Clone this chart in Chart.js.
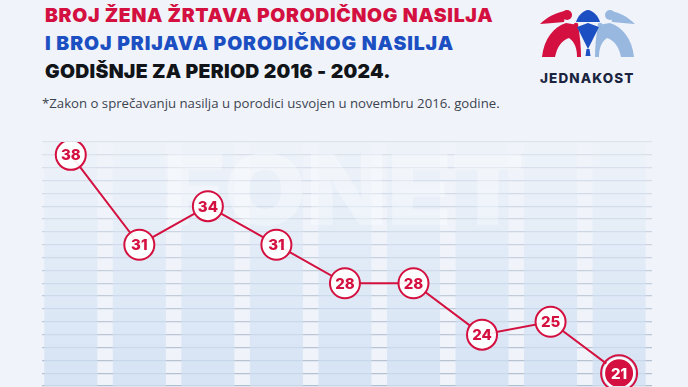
<!DOCTYPE html>
<html>
<head>
<meta charset="utf-8">
<script src="https://cdn.jsdelivr.net/npm/chart.js@4/dist/chart.umd.min.js"></script>
<style>
  html, body { margin: 0; padding: 0; }
  body { width: 688px; height: 387px; background: #f0f4fa; position: relative; overflow: hidden; font-family: Inter, sans-serif; }
  .t { position: absolute; left: 45px; margin: 0; font-weight: 900; font-size: 19.4px; line-height: 1; white-space: nowrap; }
  #t1 { top: 6px; color: #d3103f; letter-spacing: 0.67px; }
  #t2 { top: 34px; color: #1c4fc2; letter-spacing: 0.9px; }
  #t3 { top: 62px; color: #111418; letter-spacing: 0.28px; }
  #note { position: absolute; left: 42px; top: 94px; font-family: "Open Sans", sans-serif; font-size: 13.2px; color: #3d4350; white-space: nowrap; }
  #logo { position: absolute; left: 0; top: 0; }
  #brand { position: absolute; left: 540px; top: 70px; font-weight: 800; font-size: 13.5px; letter-spacing: 1.1px; color: #1b2440; }
  #wrap { position: absolute; left: 0; top: 125px; width: 688px; height: 278px; }
</style>
</head>
<body>
<div class="t" id="t1">BROJ ŽENA ŽRTAVA PORODIČNOG NASILJA</div>
<div class="t" id="t2">I BROJ PRIJAVA PORODIČNOG NASILJA</div>
<div class="t" id="t3">GODIŠNJE ZA PERIOD 2016 - 2024.</div>
<div id="note">*Zakon o sprečavanju nasilja u porodici usvojen u novembru 2016. godine.</div>

<svg id="logo" width="688" height="100">
  <!-- red figure -->
  <path d="M566,11 C557,12 547,17 540,24 C549,23 557,23 564,22 Z" fill="#d3103f"/>
  <circle cx="567" cy="15" r="5" fill="#d3103f"/>
  <path d="M542,57 C544,38 554,27 566,23 L578,25 C580,36 581,47 581,57 Z" fill="#d3103f"/>
  <path d="M555,57 C557,47 562,40 569,38 C575,42 577,49 577,57 Z" fill="#f0f4fa"/>
  <!-- light blue figure -->
  <path d="M610,11 C619,12 628,17 635,24 C626,23 619,23 612,22 Z" fill="#98b8e0"/>
  <circle cx="610" cy="15" r="5" fill="#98b8e0"/>
  <path d="M634,57 C632,38 622,27 610,23 L598,25 C596,36 595,47 595,57 Z" fill="#98b8e0"/>
  <path d="M621,57 C619,47 614,40 607,38 C601,42 599,49 599,57 Z" fill="#f0f4fa"/>
  <!-- blue figure -->
  <path d="M588,10 C582,11 578,16 576,22 L600,22 C598,16 594,11 588,10 Z" fill="#1c4fc2"/>
  <circle cx="588" cy="15" r="4.5" fill="#1c4fc2"/>
  <path d="M577,27 L588,23 L599,27 L588,49 Z" fill="#1c4fc2"/>
  <path d="M586.5,49 L589.5,49 L590.5,56 L585.5,56 Z" fill="#1c4fc2"/>
  <circle cx="576" cy="25" r="2.3" fill="#d3103f"/>
  <circle cx="600" cy="25" r="2.3" fill="#98b8e0"/>
</svg>
<div id="brand">JEDNAKOST</div>

<div id="wrap"><canvas id="c"></canvas></div>

<script>
// --- DATA ---
const years = [2016, 2017, 2018, 2019, 2020, 2021, 2022, 2023, 2024];
const victims = [38, 31, 34, 31, 28, 28, 24, 25, 21];
// background columns reach past the top of the visible area
const columnLevel = [39, 39, 39, 39, 39, 39, 39, 39, 39];
const yMin = 20, yMax = 39;

const RED = '#d3103f';

// --- PLUGINS ---
const watermark = {
    id: 'watermark',
    beforeDatasetDraw(chart, args) {
        if (args.index !== 1) return;
        const ctx = chart.ctx;
        ctx.save();
        ctx.font = '900 98px Inter';
        ctx.fillStyle = 'rgba(255,255,255,0.3)';
        ctx.textBaseline = 'alphabetic';
        const w = ctx.measureText('FONET').width;
        ctx.translate(163, 100);
        ctx.scale(361 / w, 1);
        ctx.fillText('FONET', 0, 0);
        ctx.restore();
    }
};

const pointLabels = {
    id: 'pointLabels',
    afterDatasetsDraw(chart) {
        const ctx = chart.ctx;
        const meta = chart.getDatasetMeta(1);
        ctx.save();
        ctx.textAlign = 'center';
        ctx.textBaseline = 'middle';
        meta.data.forEach((pt, i) => {
            const last = i === victims.length - 1;
            if (last) {
                ctx.beginPath();
                ctx.arc(pt.x, pt.y, 18, 0, Math.PI * 2);
                ctx.lineWidth = 2;
                ctx.strokeStyle = RED;
                ctx.stroke();
            }
            ctx.font = '800 15px Inter';
            ctx.fillStyle = last ? '#ffffff' : RED;
            ctx.fillText(victims[i], pt.x, pt.y + 1);
        });
        ctx.restore();
    }
};

function gridColor(ctx) {
    const v = ctx.tick ? ctx.tick.value : yMin;
    const f = (v - yMin) / (yMax - yMin);
    const a = 0.62 - 0.42 * f;
    return 'rgba(140,158,182,' + a.toFixed(3) + ')';
}

function columnFill(ctx) {
    const area = ctx.chart.chartArea;
    if (!area) return 'rgba(205,222,243,0.7)';
    const g = ctx.chart.ctx.createLinearGradient(0, area.bottom, 0, area.top);
    g.addColorStop(0, 'rgba(206,222,242,0.78)');
    g.addColorStop(0.55, 'rgba(214,228,245,0.55)');
    g.addColorStop(1, 'rgba(225,234,246,0.1)');
    return g;
}

new Chart(document.getElementById('c'), {
    data: {
        datasets: [
            {
                type: 'bar',
                data: years.map((y, i) => ({ x: y, y: columnLevel[i] })),
                backgroundColor: columnFill,
                borderWidth: 0,
                barPercentage: 0.86,
                categoryPercentage: 0.9,
                order: 2
            },
            {
                type: 'line',
                data: years.map((y, i) => ({ x: y, y: victims[i] })),
                borderColor: RED,
                borderWidth: 2,
                pointRadius: 15,
                pointHoverRadius: 15,
                pointBorderWidth: 2,
                pointBorderColor: c => c.dataIndex === victims.length - 1 ? '#ffffff' : RED,
                pointBackgroundColor: c => c.dataIndex === victims.length - 1 ? RED : 'rgba(255,255,255,0.93)',
                tension: 0,
                order: 1
            }
        ]
    },
    options: {
        responsive: true,
        maintainAspectRatio: false,
        animation: false,
        layout: { padding: { left: 42, right: 36, top: 15, bottom: 1 } },
        plugins: { legend: { display: false }, tooltip: { enabled: false } },
        scales: {
            x: {
                type: 'linear',
                min: 2015.58,
                max: 2024.48,
                offset: false,
                display: false
            },
            y: {
                min: yMin,
                max: yMax,
                ticks: { display: false, stepSize: 1 },
                border: { display: false },
                grid: { color: gridColor, lineWidth: 1.3, drawTicks: false },
                afterFit: s => { s.width = 0; }
            }
        }
    },
    plugins: [watermark, pointLabels]
});
</script>
</body>
</html>
